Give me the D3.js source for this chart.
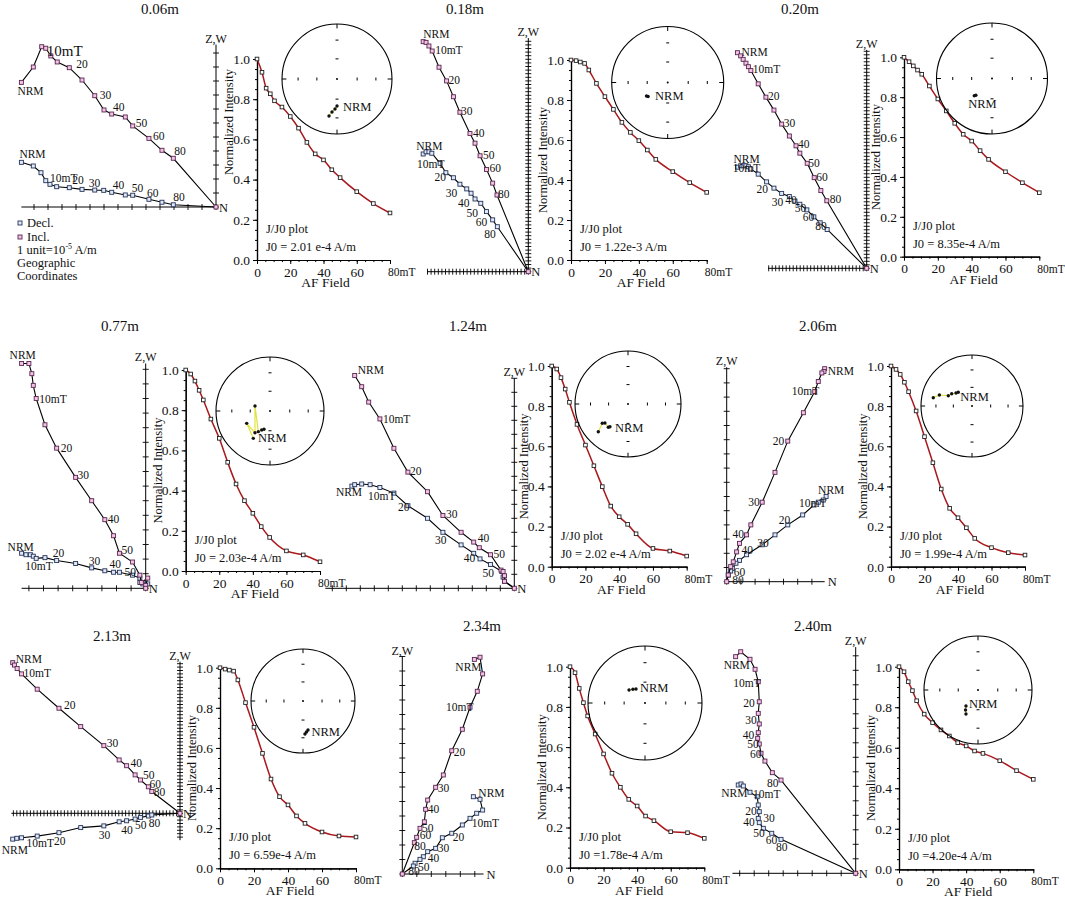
<!DOCTYPE html>
<html lang="en">
<head>
<meta charset="UTF-8">
<title>AF demagnetization results</title>
<script src="https://d3js.org/d3.v7.min.js"></script>
<style>
  body { margin: 0; background: #fff; }
  svg text { font-family: "Liberation Serif", "DejaVu Serif", serif; fill: #111; }
</style>
</head>
<body>
<svg id="chart" width="1065" height="898"></svg>
<script>
// ---------- data ----------
const titles = ["0.06m", "0.18m", "0.20m", "0.77m", "1.24m", "2.06m", "2.13m", "2.34m", "2.40m"];
const afSteps = [0, 3, 5.5, 8, 10.5, 15, 20, 25, 30, 35, 40, 45, 50, 60, 70, 80];
const j0Text = ["J0 = 2.01 e-4  A/m", "J0 = 1.22e-3 A/m", "J0 = 8.35e-4 A/m",
                "J0 = 2.03e-4 A/m", "J0 = 2.02 e-4 A/m", "J0 = 1.99e-4 A/m",
                "J0 = 6.59e-4 A/m", "J0 =1.78e-4 A/m", "J0 =4.20e-4 A/m"];

// J/J0 (normalized intensity) per sample, one value per AF step
const jj0_006 = [1.0, 0.934, 0.855, 0.827, 0.792, 0.761, 0.714, 0.656, 0.585, 0.528, 0.498, 0.449, 0.41, 0.34, 0.281, 0.234];
const jj0_018 = [1.0, 0.997, 0.99, 0.983, 0.95, 0.883, 0.817, 0.753, 0.688, 0.638, 0.597, 0.55, 0.503, 0.442, 0.387, 0.338];
const jj0_020 = [1.0, 0.978, 0.957, 0.936, 0.915, 0.856, 0.791, 0.731, 0.669, 0.614, 0.58, 0.532, 0.488, 0.426, 0.371, 0.321];
const jj0_077 = [1.0, 0.98, 0.945, 0.899, 0.851, 0.756, 0.66, 0.541, 0.433, 0.35, 0.287, 0.221, 0.167, 0.1, 0.08, 0.046];
const jj0_124 = [1.0, 0.985, 0.942, 0.885, 0.819, 0.709, 0.606, 0.503, 0.399, 0.302, 0.249, 0.211, 0.164, 0.091, 0.078, 0.053];
const jj0_206 = [1.0, 0.983, 0.958, 0.919, 0.872, 0.776, 0.648, 0.518, 0.387, 0.291, 0.244, 0.194, 0.141, 0.095, 0.07, 0.058];
const jj0_213 = [1.0, 0.993, 0.988, 0.983, 0.939, 0.826, 0.703, 0.573, 0.445, 0.357, 0.316, 0.261, 0.224, 0.181, 0.161, 0.156];
const jj0_234 = [1.0, 0.97, 0.892, 0.821, 0.755, 0.665, 0.566, 0.47, 0.4, 0.34, 0.307, 0.257, 0.234, 0.179, 0.174, 0.146];
const jj0_240 = [1.0, 0.975, 0.926, 0.882, 0.832, 0.766, 0.724, 0.688, 0.658, 0.625, 0.609, 0.584, 0.572, 0.536, 0.487, 0.444];

// Zijderveld vertical projection (N, Z/W) in units, NRM first
const vert_006 = [[-13.9,8.9],[-13.05,10.0],[-12.45,11.45],[-12.16,11.34],[-11.8,10.79],[-11.34,10.36],[-10.48,9.95],[-9.57,9.07],[-8.66,7.95],[-8.0,6.93],[-7.45,6.64],[-6.48,6.43],[-5.95,5.79],[-4.79,4.9],[-3.86,4.05],[-3.05,3.48]];
const vert_018 = [[-29.2,63.9],[-28.4,63.7],[-27.6,62.7],[-26.7,61.3],[-24.8,56.8],[-22.7,53.0],[-20.8,48.6],[-19.0,44.3],[-16.2,38.4],[-14.8,35.7],[-13.4,32.2],[-11.6,28.4],[-9.9,24.6],[-8.7,21.3]];
const vert_020 = [[-36.9,61.6],[-36.0,60.7],[-35.3,59.7],[-34.5,58.6],[-33.8,57.6],[-33.1,56.5],[-31.0,52.7],[-28.8,48.9],[-26.5,45.2],[-24.3,41.2],[-22.1,37.8],[-20.2,35.0],[-19.1,32.9],[-17.0,30.0],[-15.0,25.9],[-13.1,22.2],[-11.4,19.3]];
const vert_077 = [[-8.5,15.4],[-8.0,15.4],[-7.8,14.7],[-7.7,13.9],[-7.5,13.0],[-6.9,11.2],[-6.1,9.6],[-4.8,7.6],[-3.7,6.0],[-2.8,4.7],[-2.2,3.6],[-1.8,2.4],[-0.9,1.8],[-0.4,0.9],[-0.3,0.4],[0.14,0.7],[0,0.2]];
const vert_124 = [[-11.4,15.2],[-10.9,14.4],[-10.4,13.3],[-9.6,12.1],[-8.6,10.0],[-7.6,8.3],[-6.2,6.9],[-5.1,5.2],[-3.8,4.0],[-2.9,3.3],[-2.5,2.9],[-1.7,2.4],[-0.95,1.3],[-0.8,1.2],[-0.7,0.9],[-0.7,0.5]];
const vert_206 = [[6.9,15.0],[6.85,14.8],[6.7,14.7],[6.45,14.1],[6.2,13.4],[5.4,11.9],[4.3,9.9],[3.4,7.7],[2.5,5.6],[1.7,4.0],[1.4,3.3],[0.9,2.7],[0.7,2.1],[0.46,1.4],[0.28,1.06],[0.11,0.47]];
const vert_213 = [[-49.2,44.3],[-48.7,43.6],[-47.9,42.6],[-46.6,41.0],[-42.0,36.5],[-35.6,30.9],[-29.2,25.5],[-22.4,19.9],[-17.9,15.7],[-15.7,14.0],[-13.2,11.3],[-11.6,9.8],[-9.3,7.8],[-8.3,6.4]];
const vert_234 = [[4.97,14.8],[5.36,14.95],[5.54,13.8],[5.17,12.6],[4.67,11.5],[4.14,9.98],[3.41,8.5],[2.83,6.83],[2.3,5.98],[1.75,5.1],[1.61,4.46],[1.52,3.6],[1.22,3.15],[0.99,2.53],[0.83,2.16]];
const vert_240 = [[-8.28,14.94],[-7.93,15.28],[-7.29,14.76],[-6.94,14.07],[-6.72,13.21],[-6.65,11.83],[-6.72,11.03],[-6.65,10.3],[-6.72,9.7],[-6.76,9.31],[-6.65,8.92],[-6.53,8.28],[-6.26,7.74],[-5.75,6.94],[-5.15,6.43]];

// Zijderveld horizontal projection (N, E/W) in units, NRM first
const horiz_006 = [[-13.9,3.19],[-13.05,2.93],[-12.5,2.45],[-12.16,1.88],[-11.86,1.62],[-11.38,1.45],[-10.48,1.38],[-9.57,1.26],[-8.66,1.21],[-8.02,1.19],[-7.45,1.05],[-6.48,0.86],[-5.95,0.84],[-4.79,0.55],[-3.86,0.34],[-3.05,0.16]];
const horiz_018 = [[-29.2,32.7],[-28.4,33.3],[-27.6,33.3],[-26.8,32.9],[-24.5,30.1],[-22.9,27.5],[-20.8,26.1],[-19.0,24.3],[-17.1,23.0],[-15.9,21.8],[-14.8,20.2],[-13.2,19.0],[-11.6,16.7],[-9.9,14.4],[-8.6,12.5]];
const horiz_020 = [[-36.9,28.9],[-36.0,29.3],[-35.3,29.3],[-34.5,29.3],[-33.8,29.0],[-33.1,28.4],[-31.0,26.9],[-28.6,24.7],[-26.5,22.9],[-24.3,21.4],[-22.1,20.5],[-20.5,19.2],[-19.1,18.3],[-17.1,16.7],[-15.1,14.7],[-13.3,13.0],[-11.3,11.1]];
const horiz_077 = [[-8.5,2.4],[-8.2,2.3],[-7.9,2.3],[-7.7,2.2],[-7.5,2.05],[-6.9,2.1],[-6.1,1.9],[-4.8,1.7],[-3.7,1.4],[-2.8,1.2],[-2.2,1.1],[-1.8,1.1],[-0.9,0.9],[-0.4,0.7],[-0.4,0.4],[-0.2,0.3],[0.14,0.3]];
const horiz_124 = [[-11.6,7.3],[-11.4,7.4],[-10.9,7.45],[-10.3,7.4],[-9.6,7.2],[-8.6,6.8],[-7.6,5.9],[-6.2,5.0],[-5.1,4.0],[-3.8,3.1],[-2.9,2.5],[-2.45,2.1],[-1.7,1.7],[-0.9,1.2],[-0.8,0.8],[-0.7,0.5]];
const horiz_206 = [[7.0,6.0],[6.8,5.75],[6.45,5.6],[6.15,5.4],[5.35,4.7],[4.3,4.0],[3.4,3.3],[2.5,2.6],[1.4,1.9],[0.9,1.5],[0.65,1.3],[0.4,0.94],[0.28,0.75],[0.11,0.47]];
const horiz_213 = [[-49.2,-7.6],[-48.0,-7.35],[-46.6,-7.2],[-42.0,-6.7],[-35.6,-5.7],[-29.2,-4.2],[-22.4,-3.7],[-17.9,-2.5],[-15.7,-2.2],[-13.2,-1.7],[-11.6,-1.2],[-9.3,-0.8],[-8.3,-0.5]];
const horiz_234 = [[4.9,5.33],[5.36,5.15],[5.54,4.41],[5.13,4.19],[4.67,3.84],[4.14,3.38],[3.41,2.81],[2.76,2.5],[2.3,1.77],[1.75,1.54],[1.45,1.19],[1.22,1.01],[0.88,0.74],[0.76,0.55]];
const horiz_240 = [[-8.1,6.09],[-7.91,6.16],[-7.75,6.02],[-7.29,5.59],[-6.79,5.28],[-6.72,4.71],[-6.65,4.25],[-6.72,3.79],[-6.65,3.49],[-6.37,3.1],[-5.79,2.76],[-5.15,2.34]];

// step labels: [point index, text]
const vertLab_006 = [[0,"NRM"],[4,"10mT"],[6,"20"],[8,"30"],[9,"40"],[12,"50"],[13,"60"],[15,"80"]];
const vertLab_018 = [[0,"NRM"],[3,"10mT"],[5,"20"],[7,"30"],[8,"40"],[10,"50"],[11,"60"],[13,"80"]];
const vertLab_020 = [[0,"NRM"],[5,"10mT"],[7,"20"],[9,"30"],[11,"40"],[13,"50"],[14,"60"],[16,"80"]];
const vertLab_077 = [[0,"NRM"],[4,"10mT"],[6,"20"],[7,"30"],[9,"40"],[11,"50"]];
const vertLab_124 = [[0,"NRM"],[3,"10mT"],[5,"20"],[7,"30"],[9,"40"],[11,"50"]];
const vertLab_206 = [[0,"NRM"],[4,"10mT"],[6,"20"],[8,"30"],[10,"40"],[14,"60"],[15,"80"]];
const vertLab_213 = [[0,"NRM"],[3,"10mT"],[5,"20"],[7,"30"],[9,"40"],[10,"50"],[12,"60"],[13,"80"]];
const vertLab_234 = [[0,"NRM"],[4,"10mT"],[6,"20"],[8,"30"],[10,"40"],[12,"50"],[13,"60"],[14,"80"]];
const vertLab_240 = [[0,"NRM"],[4,"10mT"],[5,"20"],[7,"30"],[9,"40"],[10,"50"],[11,"60"],[14,"80"]];

const horizLab_006 = [[0,"NRM"],[4,"10mT"],[6,"20"],[8,"30"],[10,"40"],[12,"50"],[13,"60"],[15,"80"]];
const horizLab_018 = [[0,"NRM"],[4,"10mT"],[6,"20"],[8,"30"],[10,"40"],[12,"50"],[13,"60"],[14,"80"]];
const horizLab_020 = [[0,"NRM"],[5,"10mT"],[7,"20"],[9,"30"],[10,"40"],[12,"50"],[13,"60"],[15,"80"]];
const horizLab_077 = [[0,"NRM"],[3,"10mT"],[6,"20"],[8,"30"],[10,"40"],[12,"50"]];
const horizLab_124 = [[0,"NRM"],[3,"10mT"],[6,"20"],[8,"30"],[10,"40"],[12,"50"]];
const horizLab_206 = [[0,"NRM"],[3,"10mT"],[5,"20"],[7,"30"],[8,"40"]];
const horizLab_213 = [[0,"NRM"],[2,"10mT"],[4,"20"],[6,"30"],[7,"40"],[9,"50"],[12,"80"]];
const horizLab_234 = [[0,"NRM"],[3,"10mT"],[6,"20"],[8,"30"],[9,"40"],[11,"50"],[13,"80"]];
const horizLab_240 = [[0,"NRM"],[3,"10mT"],[6,"20"],[7,"30"],[8,"40"],[9,"50"],[10,"60"],[11,"80"]];

// stereonet directions [declination, inclination], NRM first
const st_006 = [[180,49.4],[183.8,44.6],[188.6,39.2],[192.2,31.8]];
const st_018 = [[234.5,54.6],[237.5,53]];
const st_020 = [[225.9,53.3],[224,55.6]];
const st_077 = [[198.1,60.8],[203.6,58.4],[209.5,53.8],[288.5,66.1],[214.7,49.6],[242.1,49.6],[211.4,40.4]];
const st_124 = [[218.5,44.5],[220.2,42],[230.5,43],[233.1,39.2],[227,24.4]];
const st_206 = [[315,58.8],[309.1,56.8],[301.2,51.6],[293.5,48],[288.6,33],[282.1,23.4]];
const st_213 = [[173.6,39.8],[176.6,36.6],[170.2,42.8]];
const st_234 = [[318.8,63.8],[309.2,60.4],[327.3,66.2]];
const st_240 = [[216.9,59.6],[212,54.1],[206.6,48.8]];
const netTickInc = [30, 60];

// ---------- layout (pixels) ----------
const titlePos = [[160,14],[465,14],[800,14],[120,331],[468,331],[818,331],[112,641],[482,631],[813,631]];

const zijLayout = [
  {ox:216,   oy:207,   s:14,   xr:[-13.9,0], yr:[0,11.6],
   vOff:[[-4,13],[-4,0,15],[7,0],[5,3],[9,1],[3,1],[4,2],[1,-3]],
   hOff:[[-2,-4],[0,-2],[3,-4],[-6,-3],[1,-3],[-1,-3],[-2,-2],[0,-4]]},
  {ox:528.3, oy:271.7, s:3.6,  xr:[-28.1,0], yr:[0,64.9],
   vOff:[[0,-4],[3,3],[2,3],[1,3],[3,4],[3,3],[3,3],[1,3]],
   hOff:[[-7,-4],[-23,5],[-19,3],[-21,8],[-17,8],[-20,5],[-17,6],[-13,11]]},
  {ox:866.7, oy:268.3, s:3.5,  xr:[-28.2,0], yr:[0,62.4],
   vOff:[[4,3],[2,2],[2,3],[2,3],[2,2],[1,4],[2,3],[3,2]],
   hOff:[[-4,-4],[-18,3],[-10,11],[-10,13],[-4,7],[-5,8],[-4,11],[-5,7]]},
  {ox:145.7, oy:588.3, s:14.6, xr:[-8.5,0], yr:[0,15.4],
   vOff:[[-12,-4],[3,4],[4,4],[2,2],[3,3],[2,1]],
   hOff:[[-14,-2],[-8,14],[-4,-4],[-3,-3],[-4,-4],[-8,1]]},
  {ox:514.3, oy:588.3, s:14,   xr:[-13.5,0], yr:[0,15.0],
   vOff:[[3,-2],[3,4],[2,3],[3,2],[4,0],[3,3]],
   hOff:[[-16,10],[-2,15],[-10,5],[-8,12],[-10,9],[-8,12]]},
  {ox:726.7, oy:581.7, s:14.2, xr:[0,6.9], yr:[0,15.1],
   vOff:[[3,6],[-23,4],[-15,4],[-14,4],[-14,3],[3,9],[4,9]],
   hOff:[[-8,-3],[-15,2],[-9,-1],[-5,2],[-5,-1]]},
  {ox:180,   oy:813.3, s:3.4,  xr:[-49.6,0], yr:[-7.9,44.6],
   vOff:[[3,0],[2,3],[5,1],[3,1],[4,1],[8,4],[1,1],[2,4]],
   hOff:[[-11,15],[5,9],[-5,12],[-5,13],[2,12],[0,10],[-3,12]]},
  {ox:402.3, oy:874,   s:14.5, xr:[0,5.6], yr:[0,15.0],
   vOff:[[-19,12],[-24,4],[2,5],[2,5],[2,4],[2,4],[3,2],[0,7]],
   hOff:[[5,0],[-5,14],[1,8],[2,4],[0,10],[-2,12],[-5,9]]},
  {ox:855.7, oy:873.3, s:14.5, xr:[-8.5,0], yr:[0,15.6],
   vOff:[[-12,12],[-25,5],[-16,5],[-14,0],[-15,1],[-12,4],[-11,5],[-14,7]],
   hOff:[[-17,12],[3,6],[-14,3],[5,4],[-16,3],[-10,9],[-6,11],[-5,12]]}
];

const jLayout = [
  {x0:257,   x80:390,    y0:260,   y1:59,  ylabY:122},
  {x0:571,   x80:706.7,  y0:260,   y1:60},
  {x0:904,   x80:1039.3, y0:256.7, y1:57.3},
  {x0:185.7, x80:320,    y0:571,   y1:370},
  {x0:551.7, x80:686.7,  y0:566.7, y1:366},
  {x0:891,   x80:1025,   y0:566.7, y1:366},
  {x0:220,   x80:356,    y0:868.3, y1:667.7},
  {x0:570,   x80:704.3,  y0:867.7, y1:666.7},
  {x0:899,   x80:1033.3, y0:869.3, y1:666.7}
];

const netLayout = [
  {cx:337,   cy:79,   r:55,   lab:[6,5]},
  {cx:667.7, cy:82.5, r:56,   lab:[7,4]},
  {cx:992,   cy:78.5, r:55.5, lab:[-6,12]},
  {cx:270,   cy:411,  r:54,   lab:[-6,13]},
  {cx:628,   cy:404,  r:53,   lab:[5,5]},
  {cx:972,   cy:406,  r:51,   lab:[2,9]},
  {cx:303,   cy:701,  r:52,   lab:[5,4]},
  {cx:645,   cy:703,  r:57,   lab:[7,3]},
  {cx:978,   cy:690,  r:54,   lab:[3,2]}
];

const jj0 = [jj0_006, jj0_018, jj0_020, jj0_077, jj0_124, jj0_206, jj0_213, jj0_234, jj0_240];
const zijVert = [vert_006, vert_018, vert_020, vert_077, vert_124, vert_206, vert_213, vert_234, vert_240];
const zijHoriz = [horiz_006, horiz_018, horiz_020, horiz_077, horiz_124, horiz_206, horiz_213, horiz_234, horiz_240];
const vertLabs = [vertLab_006, vertLab_018, vertLab_020, vertLab_077, vertLab_124, vertLab_206, vertLab_213, vertLab_234, vertLab_240];
const horizLabs = [horizLab_006, horizLab_018, horizLab_020, horizLab_077, horizLab_124, horizLab_206, horizLab_213, horizLab_234, horizLab_240];
const nets = [st_006, st_018, st_020, st_077, st_124, st_206, st_213, st_234, st_240];

// ---------- drawing ----------
const svg = d3.select("#chart");
const SERIF = '"Liberation Serif", "DejaVu Serif", serif';
const INCL = {stroke: "#5a2752", fill: "#f2c4e4"};
const DECL = {stroke: "#24345a", fill: "#e2e9f6"};
const CURVE = "#a8181c";
const PATH_YELLOW = "#e2e23c";

function txt(g, x, y, s, size, anchor) {
  return g.append("text")
    .attr("x", x).attr("y", y)
    .attr("font-family", SERIF)
    .style("font-family", SERIF)
    .attr("font-size", size || 11.5)
    .attr("text-anchor", anchor || "start")
    .attr("fill", "#111")
    .text(s);
}

function square(g, cx, cy, size, style) {
  g.append("rect")
    .attr("x", cx - size / 2).attr("y", cy - size / 2)
    .attr("width", size).attr("height", size)
    .attr("fill", style.fill).attr("stroke", style.stroke).attr("stroke-width", 0.9);
}

function drawZij(k) {
  const L = zijLayout[k];
  const g = svg.append("g");
  const x = d3.scaleLinear().domain([0, 1]).range([L.ox, L.ox + L.s]);
  const y = d3.scaleLinear().domain([0, 1]).range([L.oy, L.oy - L.s]);

  // axes with a cross tick at every unit
  g.append("line").attr("x1", x(L.xr[0])).attr("x2", x(L.xr[1]))
    .attr("y1", y(0)).attr("y2", y(0)).attr("stroke", "#000");
  g.append("line").attr("x1", x(0)).attr("x2", x(0))
    .attr("y1", y(L.yr[0])).attr("y2", y(L.yr[1])).attr("stroke", "#000");
  d3.range(Math.ceil(L.xr[0]), Math.floor(L.xr[1]) + 1).forEach(v => {
    g.append("line").attr("x1", x(v)).attr("x2", x(v))
      .attr("y1", y(0) - 3).attr("y2", y(0) + 3).attr("stroke", "#000").attr("stroke-width", 0.9);
  });
  d3.range(Math.ceil(L.yr[0]), Math.floor(L.yr[1]) + 1).forEach(v => {
    g.append("line").attr("x1", x(0) - 3).attr("x2", x(0) + 3)
      .attr("y1", y(v)).attr("y2", y(v)).attr("stroke", "#000").attr("stroke-width", 0.9);
  });
  txt(g, x(0), y(L.yr[1]) - 2, "Z,W", 12, "middle");
  txt(g, x(L.xr[1]) + 3, y(0) + 4.5, "N", 12.5);

  const line = d3.line().x(d => x(d[0])).y(d => y(d[1]));
  const series = [
    [zijHoriz[k], DECL, horizLabs[k], L.hOff],
    [zijVert[k], INCL, vertLabs[k], L.vOff]
  ];
  series.forEach(([pts, style, labs, offs]) => {
    g.append("path").attr("d", line(pts.concat([[0, 0]])))
      .attr("fill", "none").attr("stroke", "#000").attr("stroke-width", 1.1);
    pts.forEach(p => square(g, x(p[0]), y(p[1]), 4, style));
    labs.forEach(([i, s], j) => {
      const o = offs[j];
      txt(g, x(pts[i][0]) + o[0], y(pts[i][1]) + o[1], s, o[2] || 11.5);
    });
  });
  square(g, x(0), y(0), 4, INCL);
}

function drawIntensity(k) {
  const L = jLayout[k];
  const g = svg.append("g");
  const x = d3.scaleLinear().domain([0, 80]).range([L.x0, L.x80]);
  const y = d3.scaleLinear().domain([0, 1]).range([L.y0, L.y1]);

  const yMinor = d3.axisLeft(y).tickValues(d3.range(0, 1.001, 0.05)).tickSize(2).tickFormat("").tickSizeOuter(0);
  const yAxis = d3.axisLeft(y).tickValues([0, 0.2, 0.4, 0.6, 0.8, 1.0]).tickSize(4)
    .tickFormat(d3.format(".1f")).tickSizeOuter(0);
  const xMinor = d3.axisBottom(x).tickValues(d3.range(0, 81, 5)).tickSize(2).tickFormat("").tickSizeOuter(0);
  const xAxis = d3.axisBottom(x).tickValues([0, 20, 40, 60, 80]).tickSize(4)
    .tickFormat(d => d === 80 ? "" : d).tickSizeOuter(0);

  g.append("g").attr("transform", `translate(${L.x0},0)`).call(yMinor);
  const ya = g.append("g").attr("transform", `translate(${L.x0},0)`).call(yAxis);
  g.append("g").attr("transform", `translate(0,${L.y0})`).call(xMinor);
  const xa = g.append("g").attr("transform", `translate(0,${L.y0})`).call(xAxis);
  g.selectAll(".domain").attr("stroke", "#000").attr("stroke-width", 1.2);
  g.selectAll(".tick line").attr("stroke", "#000");
  [ya, xa].forEach(a => a.selectAll("text")
    .attr("font-size", 13.5).attr("fill", "#111")
    .attr("font-family", SERIF).style("font-family", SERIF));
  txt(g, L.x80 - 2, L.y0 + 16, "80mT", 11.5);

  txt(g, x(40) + 2, L.y0 + 27, "AF Field", 13.5, "middle");
  const ly = L.ylabY || (L.y0 + L.y1) / 2;
  txt(g, 0, 0, "Normalized Intensity", 12.5, "middle")
    .attr("transform", `translate(${L.x0 - 24},${ly}) rotate(-90)`);
  txt(g, L.x0 + 9, L.y0 - 27, "J/J0 plot", 12.5);
  txt(g, L.x0 + 9, L.y0 - 9, j0Text[k], 12.5);

  const pts = afSteps.map((f, i) => [f, jj0[k][i]]);
  g.append("path")
    .attr("d", d3.line().x(d => x(d[0])).y(d => y(d[1])).curve(d3.curveMonotoneX)(pts))
    .attr("fill", "none").attr("stroke", CURVE).attr("stroke-width", 1.5);
  pts.forEach(p => square(g, x(p[0]), y(p[1]), 3.6, {fill: "#fff", stroke: "#222"}));
}

function drawNet(k) {
  const L = netLayout[k];
  const g = svg.append("g");
  const sx = d3.scaleLinear().domain([-1, 1]).range([L.cx - L.r, L.cx + L.r]);
  const sy = d3.scaleLinear().domain([-1, 1]).range([L.cy + L.r, L.cy - L.r]);
  // equal-area radius for an inclination
  const rad = inc => Math.SQRT2 * Math.sin((90 - Math.abs(inc)) / 2 * Math.PI / 180);
  const proj = ([dec, inc]) => {
    const r = rad(inc), a = dec * Math.PI / 180;
    return [sx(r * Math.sin(a)), sy(r * Math.cos(a))];
  };

  g.append("circle").attr("cx", L.cx).attr("cy", L.cy).attr("r", L.r)
    .attr("fill", "none").attr("stroke", "#000").attr("stroke-width", 1.1);
  g.append("circle").attr("cx", L.cx).attr("cy", L.cy).attr("r", 1).attr("fill", "#000");
  const marks = netTickInc.map(rad).flatMap(v => [v, -v]);
  marks.forEach(v => {
    g.append("line").attr("x1", sx(0) - 1.5).attr("x2", sx(0) + 1.5)
      .attr("y1", sy(v)).attr("y2", sy(v)).attr("stroke", "#000");
    g.append("line").attr("x1", sx(v)).attr("x2", sx(v))
      .attr("y1", sy(0) - 1.5).attr("y2", sy(0) + 1.5).attr("stroke", "#000");
  });
  [[0, 1, 0, 0.92], [0, -1, 0, -0.92], [1, 0, 0.92, 0], [-1, 0, -0.92, 0]].forEach(t => {
    g.append("line").attr("x1", sx(t[0])).attr("y1", sy(t[1]))
      .attr("x2", sx(t[2])).attr("y2", sy(t[3])).attr("stroke", "#000");
  });

  const pts = nets[k].map(proj);
  g.append("path").attr("d", d3.line()(pts))
    .attr("fill", "none").attr("stroke", PATH_YELLOW).attr("stroke-width", 1.2);
  pts.forEach(p => g.append("circle").attr("cx", p[0]).attr("cy", p[1]).attr("r", 1.7).attr("fill", "#111"));
  txt(g, pts[0][0] + L.lab[0], pts[0][1] + L.lab[1], "NRM", 12.5);
}

titles.forEach((t, k) => {
  txt(svg, titlePos[k][0], titlePos[k][1], t, 15, "middle");
  drawZij(k);
  drawIntensity(k);
  drawNet(k);
});

// legend of the first diagram
const leg = svg.append("g");
square(leg, 20, 223, 4, DECL);
txt(leg, 27, 227, "Decl.", 12.5);
square(leg, 20, 237, 4, INCL);
txt(leg, 27, 241, "Incl.", 12.5);
const unit = txt(leg, 17, 254, "1 unit=10", 12.5);
unit.append("tspan").attr("dy", -5).attr("font-size", 8).text("-5");
unit.append("tspan").attr("dy", 5).text(" A/m");
txt(leg, 17, 267, "Geographic", 12.5);
txt(leg, 17, 280, "Coordinates", 12.5);
</script>
</body>
</html>
